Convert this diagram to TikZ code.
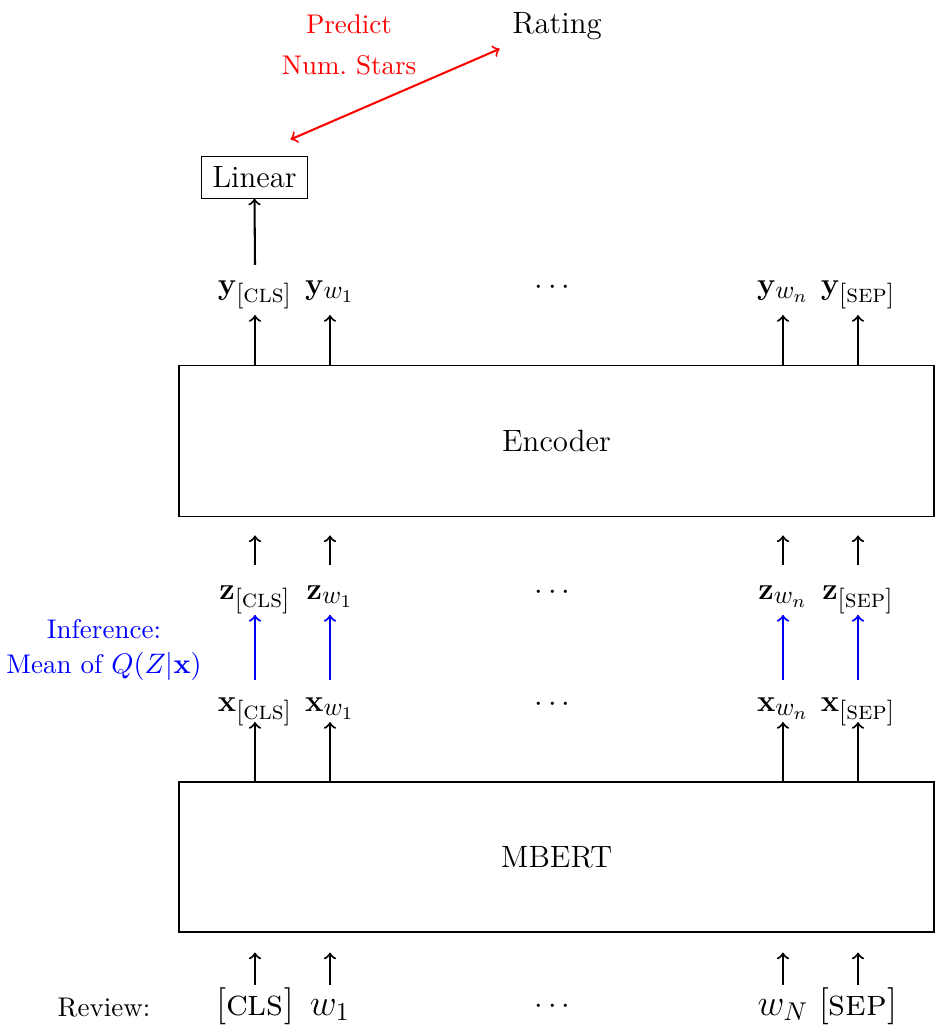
\documentclass[tikz,border=0pt]{standalone}
\usepackage{amsmath}
% larger sub- and superscripts for the 12pt labels
\DeclareMathSizes{12}{12}{10}{7}
\begin{document}
\begin{tikzpicture}[x=0.389pt,y=-0.389pt,
  lbl/.style={font=\large, inner sep=0pt, anchor=base},
  tok/.style={font=\Large, inner sep=0pt, anchor=base},
  note/.style={inner sep=0pt, align=center, font=\fontsize{10.5}{12.6}\selectfont},
  blk/.style={draw, line width=0.4pt, inner sep=0pt, font=\large},
  up/.style={->, line width=0.8pt},
  infer/.style={->, line width=0.8pt, blue},
]
\useasboundingbox (0,0) rectangle (935,1027);

% blocks
\node[blk, minimum width=293.7pt, minimum height=59.1pt] (enc) at (556.5,441) {Encoder};
\node[blk, minimum width=293.7pt, minimum height=58.35pt] (mb) at (556.5,857) {MBERT};
\node[blk, minimum width=41.6pt, minimum height=16pt] (lin) at (254.5,177.5) {Linear};

% output head
\node[lbl] (rating) at (557,33) {Rating};
\node[note, anchor=north, text=red] (pred) at (349,14) {Predict\\[3.6pt]Num.\ Stars};
\draw[<->, red, line width=0.8pt] ([shift={(-7pt,6.6pt)}]lin.north east) -- ([shift={(-4.7pt,-3.5pt)}]rating.south west);

% encoder outputs
\node[lbl] (ycls) at (255,294) {$\mathbf{y}_{[\textsc{cls}]}$};
\node[lbl] (yw1)  at (330,294) {$\mathbf{y}_{w_1}$};
\node[lbl] (ydots) at (555,294) {$\cdots$};
\node[lbl] (ywn)  at (783,294) {$\mathbf{y}_{w_n}$};
\node[lbl] (ysep) at (858,294) {$\mathbf{y}_{[\textsc{sep}]}$};

% latent inputs
\node[lbl] (zcls) at (255,599) {$\mathbf{z}_{[\textsc{cls}]}$};
\node[lbl] (zw1)  at (330,599) {$\mathbf{z}_{w_1}$};
\node[lbl] (zdots) at (555,599) {$\cdots$};
\node[lbl] (zwn)  at (783,599) {$\mathbf{z}_{w_n}$};
\node[lbl] (zsep) at (858,599) {$\mathbf{z}_{[\textsc{sep}]}$};

% MBERT outputs
\node[lbl] (xcls) at (255,711) {$\mathbf{x}_{[\textsc{cls}]}$};
\node[lbl] (xw1)  at (330,711) {$\mathbf{x}_{w_1}$};
\node[lbl] (xdots) at (555,711) {$\cdots$};
\node[lbl] (xwn)  at (783,711) {$\mathbf{x}_{w_n}$};
\node[lbl] (xsep) at (858,711) {$\mathbf{x}_{[\textsc{sep}]}$};

% input tokens
\node[note, anchor=base] (rev) at (104,1016) {Review:};
\node[tok] (tcls) at (255,1015) {$[\textsc{cls}]$};
\node[tok] (tw1)  at (330,1015) {$w_1$};
\node[lbl] (tdots) at (555,1013) {$\cdots$};
\node[tok] (twn)  at (783,1015) {$w_N$};
\node[tok] (tsep) at (858,1015) {$[\textsc{sep}]$};

\node[note, text=blue] (inf) at (104,650) {Inference:\\[1.2pt]Mean of $Q(Z|\mathbf{x})$};

% connectors
\draw[up] ([yshift=11.3pt]ycls.base) -- (lin.south);
\foreach \n in {cls,w1,wn,sep} {
  \draw[up] (enc.north -| y\n.base) -- ([yshift=-8.2pt]y\n.base);
  \draw[up, shorten >=7pt] ([yshift=13.2pt]z\n.base) -- (enc.south -| z\n.base);
  \draw[infer] ([yshift=12.1pt]x\n.base) -- ([yshift=-6.2pt]z\n.base);
  \draw[up] (mb.north -| x\n.base) -- ([yshift=-4.3pt]x\n.base);
  \draw[up, shorten >=7.8pt] ([yshift=11.7pt]t\n.base) -- (mb.south -| t\n.base);
}
\end{tikzpicture}
\end{document}
